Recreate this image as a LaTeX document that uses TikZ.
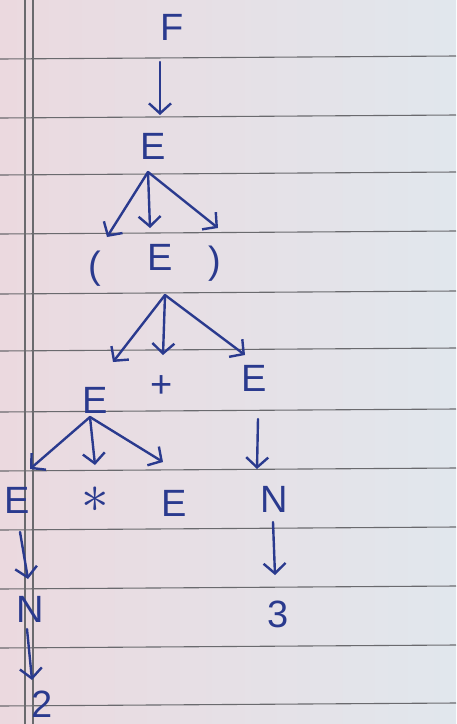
\documentclass[tikz,border=0pt]{standalone}
\usepackage{fontspec}
\setmainfont{Liberation Sans}
\usetikzlibrary{arrows.meta,calc}
\definecolor{ink}{HTML}{2A3A8E}
\definecolor{paperL}{HTML}{EBD9DF}
\definecolor{paperR}{HTML}{E1E7ED}
\definecolor{rule}{HTML}{6A6A6E}
\tikzset{
  sym/.style={text=ink, font=\fontsize{38}{38}\selectfont, inner sep=0pt, text height=27pt, text depth=0pt, anchor=center},
  arr/.style={draw=ink, line width=2.4pt, line cap=round, line join=round, -{Straight Barb[length=10pt,width=22pt,line width=2.4pt]}},
  paperline/.style={draw=rule, line width=1.1pt}
}
\begin{document}
\begin{tikzpicture}[x=1pt,y=-1pt]
\useasboundingbox (0,0) rectangle (456,724);
\shade[left color=paperL, right color=paperR] (0,0) rectangle (456,724);
% ruled lines
\foreach \yy in {58,117,174,233,293,350,411,470,529,588,647,705}
  \draw[paperline] (0,\yy+1) -- (456,\yy-2);
\draw[paperline] (25,0) -- (25,724);
\draw[paperline] (33,0) -- (33,724);
% symbols
\node[sym] (F)  at (172,27) {F};
\node[sym] (E1) at (153,146) {E};
\node[sym] (lp) at (95,265) {(};
\node[sym] (E2) at (160,257) {E};
\node[sym] (rp) at (215,260) {)};
\node[sym] (E3) at (95,400) {E};
\node[sym] (plus) at (162,384) {+};
\node[sym] (E4) at (254,378) {E};
\node[sym] (E5) at (17,500) {E};
\node[text=ink, inner sep=0pt, scale=5.5] (star) at (95,500) {$\ast$};
\node[sym] (E6) at (174,503) {E};
\node[sym] (N1) at (274,499) {N};
\node[sym] (N2) at (30,609) {N};
\node[sym] (three) at (278,614) {3};
\node[sym] (two) at (42,704) {2};
% connectors
\draw[arr] ($(F)+(-12,35)$) -- ($(E1)+(7,-31)$);
\draw[arr] ($(E1)+(-5,26)$) -- ($(lp)+(12,-28)$);
\draw[arr] ($(E1)+(-5,26)$) -- ($(E2)+(-10,-29)$);
\draw[arr] ($(E1)+(-5,26)$) -- ($(rp)+(3,-32)$);
\draw[arr] ($(E2)+(5,38)$) -- ($(E3)+(18,-38)$);
\draw[arr] ($(E2)+(5,38)$) -- ($(plus)+(1,-29)$);
\draw[arr] ($(E2)+(5,38)$) -- ($(E4)+(-9,-23)$);
\draw[arr] ($(E3)+(-5,17)$) -- ($(E5)+(13,-31)$);
\draw[arr] ($(E3)+(-5,17)$) -- ($(star)+(0,-35)$);
\draw[arr] ($(E3)+(-5,17)$) -- ($(E6)+(-11,-41)$);
\draw[arr] ($(E4)+(4,41)$) -- ($(N1)+(-17,-30)$);
\draw[arr] ($(N1)+(-1,23)$) -- ($(three)+(-3,-39)$);
\draw[arr] ($(E5)+(3,32)$) -- ($(N2)+(-2,-30)$);
\draw[arr] ($(N2)+(-3,20)$) -- ($(two)+(-10,-24)$);
\end{tikzpicture}
\end{document}
